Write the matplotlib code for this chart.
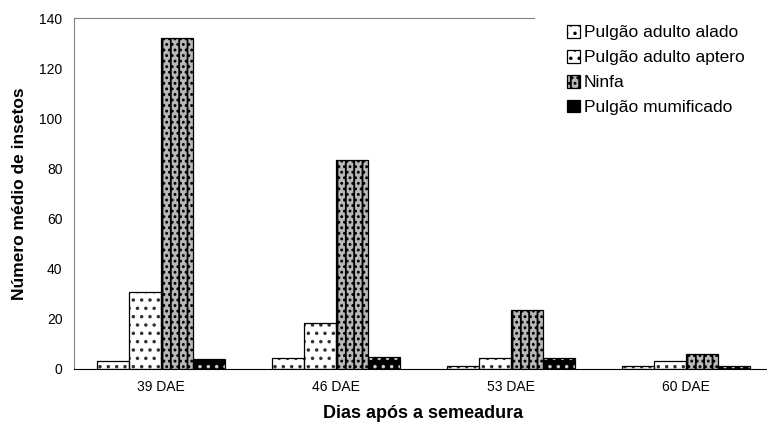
import matplotlib
matplotlib.use("Agg")
import matplotlib.pyplot as plt
import numpy as np

# ===============================
# DADOS
# ===============================
dias = ["39 DAE", "46 DAE", "53 DAE", "60 DAE"]
alado = [3.3, 4.4, 1.2, 1.1]
aptero = [30.8, 18.4, 4.4, 3.2]
ninfa = [132.0, 83.5, 23.4, 5.9]
mumificado = [3.9, 4.8, 4.3, 1.1]

series = [
    ("Pulgão adulto alado", alado, "white", "#333333", ".."),
    ("Pulgão adulto aptero", aptero, "white", "#333333", ".."),
    ("Ninfa", ninfa, "#b8b8b8", "black", "||..."),
    ("Pulgão mumificado", mumificado, "black", "#cccccc", ".."),
]

plt.rcParams["font.family"] = ["Liberation Sans", "DejaVu Sans"]
plt.rcParams["hatch.linewidth"] = 1.3

fig = plt.figure(figsize=(7.67, 4.29), dpi=100)
ax = fig.add_axes([0.096, 0.14, 0.912, 0.818])

x = np.arange(len(dias))
w = 0.183
for i, (nome, vals, face, hcol, hatch) in enumerate(series):
    pos = x + (i - 1.5) * w
    # preenchimento com hachura
    ax.bar(pos, vals, w, color=face, edgecolor=hcol, hatch=hatch,
           linewidth=0, zorder=2)
    # contorno preto
    ax.bar(pos, vals, w, fill=False, edgecolor="black", linewidth=0.9,
           zorder=3)
    # artista invisível só para a legenda
    ax.bar([0], [0], 0, color=face, edgecolor="black", hatch=hatch,
           linewidth=0.9, label=nome)

ax.set_xlim(-0.5, 3.5)
ax.set_ylim(0, 140)
ax.set_yticks(np.arange(0, 141, 20))
ax.set_xticks(x)
ax.set_xticklabels(dias)
ax.tick_params(axis="both", length=0, labelsize=10, pad=8)

ax.spines["right"].set_visible(False)
ax.spines["left"].set_color("#808080")
ax.spines["top"].set_color("#808080")
ax.spines["top"].set_bounds(-0.5, 2.13)  # a legenda cobre o resto da borda
ax.spines["bottom"].set_color("black")

ax.set_ylabel("Número médio de insetos", fontsize=12.5, fontweight="bold",
              labelpad=9)
ax.set_xlabel("Dias após a semeadura", fontsize=13, fontweight="bold",
              labelpad=8)

leg = ax.legend(loc="upper left", bbox_to_anchor=(0.685, 1.02),
                frameon=False, fontsize=12.5,
                handlelength=0.75, handleheight=0.75, handletextpad=0.25,
                labelspacing=0.55, borderpad=0.3)

fig.savefig("out.png", dpi=100)
